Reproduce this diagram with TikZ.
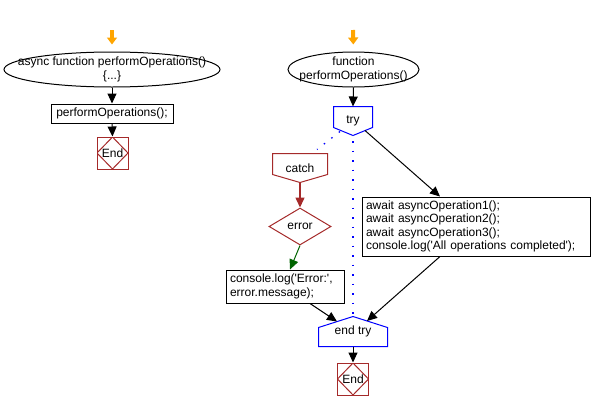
\documentclass[tikz,border=0pt]{standalone}
\usepackage{fontspec}
\newfontfamily\lib{Liberation Sans}
\usetikzlibrary{arrows.meta,shapes.geometric,calc}
\definecolor{endred}{RGB}{165,42,42}
\definecolor{darkgreen}{RGB}{0,100,0}
\definecolor{startorange}{RGB}{255,165,0}
\begin{document}
\begin{tikzpicture}[x=1pt,y=-1pt, line width=1pt,
  every node/.style={font=\lib\fontsize{12}{13.3}\selectfont, inner sep=0pt},
  stmt/.style={rectangle, draw, align=left, inner xsep=4pt},
  endnode/.style={rectangle, draw=endred, minimum width=31, minimum height=32,
    path picture={\draw[endred, line width=1pt] (path picture bounding box.north) -- (path picture bounding box.east) -- (path picture bounding box.south) -- (path picture bounding box.west) -- cycle;}},
  arr/.style={-{Triangle[length=10pt,width=9pt]}, line width=1pt},
  startarr/.style={-{Triangle[length=7pt,width=10pt]}, line width=4pt, startorange, shorten >=7pt},
  redarr/.style={-{Triangle[length=10pt,width=9pt]}, line width=1.5pt, endred},
  greenarr/.style={-{Triangle[length=10pt,width=9pt]}, line width=1pt, darkgreen},
  dotline/.style={blue, line width=1.3pt, dash pattern=on 1.5pt off 8pt}
]
\useasboundingbox (0,0) rectangle (591,410);

% left flow
\coordinate (s1) at (112,30);
\node[rectangle, minimum width=216, minimum height=35, align=center] (f1) at (112,69.5) {async function performOperations()\\\{...\}};
\draw (f1.center) ellipse [x radius=108, y radius=17.5];
\node[stmt, minimum width=122, minimum height=19] (p1) at (112,113.5) {performOperations();};
\node[endnode] (e1) at (112.5,153) {End};

\draw[startarr] (s1) -- (f1.north);
\draw[arr] (f1.south) -- (p1.north);
\draw[arr] (p1.south) -- (e1.north);

% right flow
\coordinate (s2) at (353,30);
\node[rectangle, minimum width=131, minimum height=35, align=center] (f2) at (353.5,69.5) {function\\performOperations()};
\draw (f2.center) ellipse [x radius=65.5, y radius=17.5];

\node[minimum width=38, minimum height=28] (try) at (353,121) {try};
\draw[blue] (try.north west) -- (try.north east) -- ($(try.south east)+(0,-8)$) -- (try.south) -- ($(try.south west)+(0,-8)$) -- cycle;

\node[minimum width=54, minimum height=28] (catch) at (300,168) {catch};
\draw[endred] (catch.north west) -- (catch.north east) -- ($(catch.south east)+(0,-8)$) -- (catch.south) -- ($(catch.south west)+(0,-8)$) -- cycle;

\node[diamond, draw=endred, aspect=1.7, minimum width=62, minimum height=37] (err) at (300,226.5) {error};

\node[stmt, text width=110, minimum height=33] (cons) at (285,286.5) {console.log('Error:',\\error.message);};

\node[stmt, text width=220, minimum height=59] (await) at (476,226.5) {await asyncOperation1();\\await asyncOperation2();\\await asyncOperation3();\\console.log('All operations completed');};

\node[minimum width=68, minimum height=29] (endtry) at (353,331.5) {end try};
\draw[blue] (endtry.north) -- ($(endtry.north east)+(0,11)$) -- (endtry.south east) -- (endtry.south west) -- ($(endtry.north west)+(0,11)$) -- cycle;

\node[endnode] (e2) at (353,379) {End};

\draw[startarr] (s2) -- (f2.north);
\draw[arr] (f2.south) -- (try.north);
\draw[dotline] ([xshift=-13pt,yshift=4pt]try.south) -- ([xshift=17pt,yshift=4pt]catch.north);
\draw[dotline, dash phase=4pt] (try.south) -- (endtry.north);
\draw[arr] ([xshift=12pt,yshift=5pt]try.south) -- ([xshift=-36pt]await.north);
\draw[redarr] (catch.south) -- (err.north);
\draw[greenarr] (err.south) -- ([xshift=5pt]cons.north);
\draw[arr] ([xshift=25pt]cons.south) -- ([xshift=-16pt,yshift=-5pt]endtry.north);
\draw[arr] ([xshift=-36pt]await.south) -- ([xshift=14pt,yshift=-4.5pt]endtry.north);
\draw[arr] (endtry.south) -- (e2.north);
\end{tikzpicture}
\end{document}
